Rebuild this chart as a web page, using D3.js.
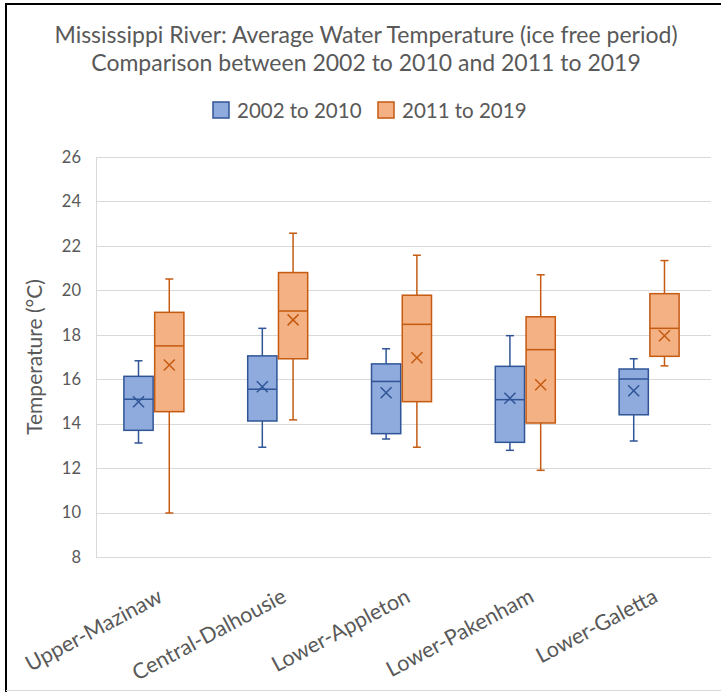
<!DOCTYPE html>
<html>
<head>
<meta charset="utf-8">
<script src="https://cdn.jsdelivr.net/npm/d3@7"></script>
<style>
  body { margin: 0; background: #fff; }
  svg { display: block; font-family: Lato, "Open Sans", sans-serif; }
</style>
</head>
<body>
<svg id="chart" width="721" height="692"></svg>
<script>
var categories = ["Upper-Mazinaw", "Central-Dalhousie", "Lower-Appleton", "Lower-Pakenham", "Lower-Galetta"]
var seriesNames = ["2002 to 2010", "2011 to 2019"]
var yTicks = [8, 10, 12, 14, 16, 18, 20, 22, 24, 26]

// 2002 to 2010
var minA    = [13.13, 12.94, 13.31, 12.80, 13.22]
var q1A     = [13.70, 14.12, 13.55, 13.16, 14.40]
var medianA = [15.10, 15.55, 15.90, 15.08, 16.01]
var q3A     = [16.13, 17.05, 16.69, 16.58, 16.46]
var maxA    = [16.83, 18.29, 17.37, 17.96, 16.92]
var meanA   = [14.99, 15.66, 15.39, 15.14, 15.48]

// 2011 to 2019
var minB    = [9.98, 14.17, 12.94, 11.90, 16.60]
var q1B     = [14.54, 16.92, 14.99, 14.03, 17.03]
var medianB = [17.50, 19.07, 18.47, 17.33, 18.29]
var q3B     = [19.01, 20.80, 19.78, 18.81, 19.85]
var maxB    = [20.51, 22.57, 21.58, 20.70, 21.34]
var meanB   = [16.64, 18.67, 16.97, 15.75, 17.96]

var fills   = ["#8FAADC", "#F4B183"]
var strokes = ["#2F5597", "#C55A11"]
var textCol = "#595959"

var svg = d3.select("#chart")

// frame of the pasted chart
svg.append("path").attr("d", "M6,692 V4 H721").attr("fill", "none").attr("stroke", "#000").attr("stroke-width", 2)
svg.append("line").attr("x1", 6).attr("x2", 721).attr("y1", 690.5).attr("y2", 690.5).attr("stroke", "#d9d9d9")

var plotLeft = 96, plotRight = 711, plotTop = 157, plotBottom = 557

var x = d3.scaleBand().domain(categories).range([92, 711])
var xInner = d3.scaleBand().domain(seriesNames).range([-30, 30]).paddingInner(0.05)
var y = d3.scaleLinear().domain([8, 26]).range([plotBottom, plotTop])

// gridlines
svg.append("g").selectAll("line")
  .data(yTicks)
  .enter().append("line")
    .attr("x1", plotLeft).attr("x2", plotRight)
    .attr("y1", function(d) { return Math.round(y(d)) + 0.5 })
    .attr("y2", function(d) { return Math.round(y(d)) + 0.5 })
    .attr("stroke", "#d9d9d9").attr("stroke-width", 1)

svg.append("line")
  .attr("x1", plotLeft + 0.5).attr("x2", plotLeft + 0.5)
  .attr("y1", plotTop).attr("y2", plotBottom)
  .attr("stroke", "#d9d9d9")

// y axis labels
var yAxis = d3.axisLeft(y).tickValues(yTicks).tickSize(0).tickPadding(0)
var gy = svg.append("g").attr("transform", "translate(81,0)").call(yAxis)
gy.select(".domain").remove()
gy.selectAll("text").attr("fill", textCol).style("font-size", "16.5px").style("font-family", "Lato, sans-serif")

svg.append("text")
  .attr("transform", "translate(42," + (plotTop + plotBottom) / 2 + ") rotate(-90)")
  .attr("text-anchor", "middle")
  .attr("fill", textCol).style("font-size", "21px")
  .text("Temperature (°C)")

// x axis labels
svg.append("g").selectAll("text")
  .data(categories)
  .enter().append("text")
    .attr("transform", function(d) { return "translate(" + (x(d) + x.bandwidth() / 2 + 10) + ",601) rotate(-28)" })
    .attr("text-anchor", "end")
    .attr("fill", textCol).style("font-size", "21.5px")
    .text(function(d) { return d })

// one record per box
var boxes = []
categories.forEach(function(c, i) {
  boxes.push({cat: c, s: 0, min: minA[i], q1: q1A[i], med: medianA[i], q3: q3A[i], max: maxA[i], mean: meanA[i]})
  boxes.push({cat: c, s: 1, min: minB[i], q1: q1B[i], med: medianB[i], q3: q3B[i], max: maxB[i], mean: meanB[i]})
})

var bw = xInner.bandwidth()
var g = svg.append("g").selectAll("g")
  .data(boxes)
  .enter().append("g")
    .attr("transform", function(d) { return "translate(" + (x(d.cat) + x.bandwidth() / 2 + xInner(seriesNames[d.s])) + ",0)" })
    .attr("stroke", function(d) { return strokes[d.s] })
    .attr("stroke-width", 1.5)
    .attr("fill", "none")

// whiskers and caps
g.append("line").attr("x1", bw / 2).attr("x2", bw / 2)
  .attr("y1", function(d) { return y(d.max) }).attr("y2", function(d) { return y(d.q3) })
g.append("line").attr("x1", bw / 2).attr("x2", bw / 2)
  .attr("y1", function(d) { return y(d.q1) }).attr("y2", function(d) { return y(d.min) })
g.append("line").attr("x1", bw / 2 - 4).attr("x2", bw / 2 + 4)
  .attr("y1", function(d) { return y(d.max) }).attr("y2", function(d) { return y(d.max) })
g.append("line").attr("x1", bw / 2 - 4).attr("x2", bw / 2 + 4)
  .attr("y1", function(d) { return y(d.min) }).attr("y2", function(d) { return y(d.min) })

g.append("rect")
  .attr("x", 0).attr("width", bw)
  .attr("y", function(d) { return y(d.q3) })
  .attr("height", function(d) { return y(d.q1) - y(d.q3) })
  .attr("fill", function(d) { return fills[d.s] })

g.append("line").attr("x1", 0).attr("x2", bw)
  .attr("y1", function(d) { return y(d.med) }).attr("y2", function(d) { return y(d.med) })

// mean marker
g.append("path")
  .attr("d", function(d) {
    var cx = bw / 2, cy = y(d.mean), r = 5.5
    return "M" + (cx - r) + "," + (cy - r) + "L" + (cx + r) + "," + (cy + r) +
           "M" + (cx - r) + "," + (cy + r) + "L" + (cx + r) + "," + (cy - r)
  })

// title
svg.append("text").attr("x", 366).attr("y", 43).attr("text-anchor", "middle")
  .attr("fill", textCol).style("font-size", "23px")
  .text("Mississippi River: Average Water Temperature (ice free period)")
svg.append("text").attr("x", 366).attr("y", 71).attr("text-anchor", "middle")
  .attr("fill", textCol).style("font-size", "23px")
  .text("Comparison between 2002 to 2010 and 2011 to 2019")

// legend
var legendX = [213, 378]
var leg = svg.append("g").selectAll("g")
  .data(seriesNames)
  .enter().append("g")
    .attr("transform", function(d, i) { return "translate(" + legendX[i] + ",102)" })
leg.append("rect").attr("width", 16).attr("height", 16)
  .attr("fill", function(d, i) { return fills[i] })
  .attr("stroke", function(d, i) { return strokes[i] }).attr("stroke-width", 1.5)
leg.append("text").attr("x", 24).attr("y", 16)
  .attr("fill", textCol).style("font-size", "20.5px")
  .text(function(d) { return d })
</script>
</body>
</html>
